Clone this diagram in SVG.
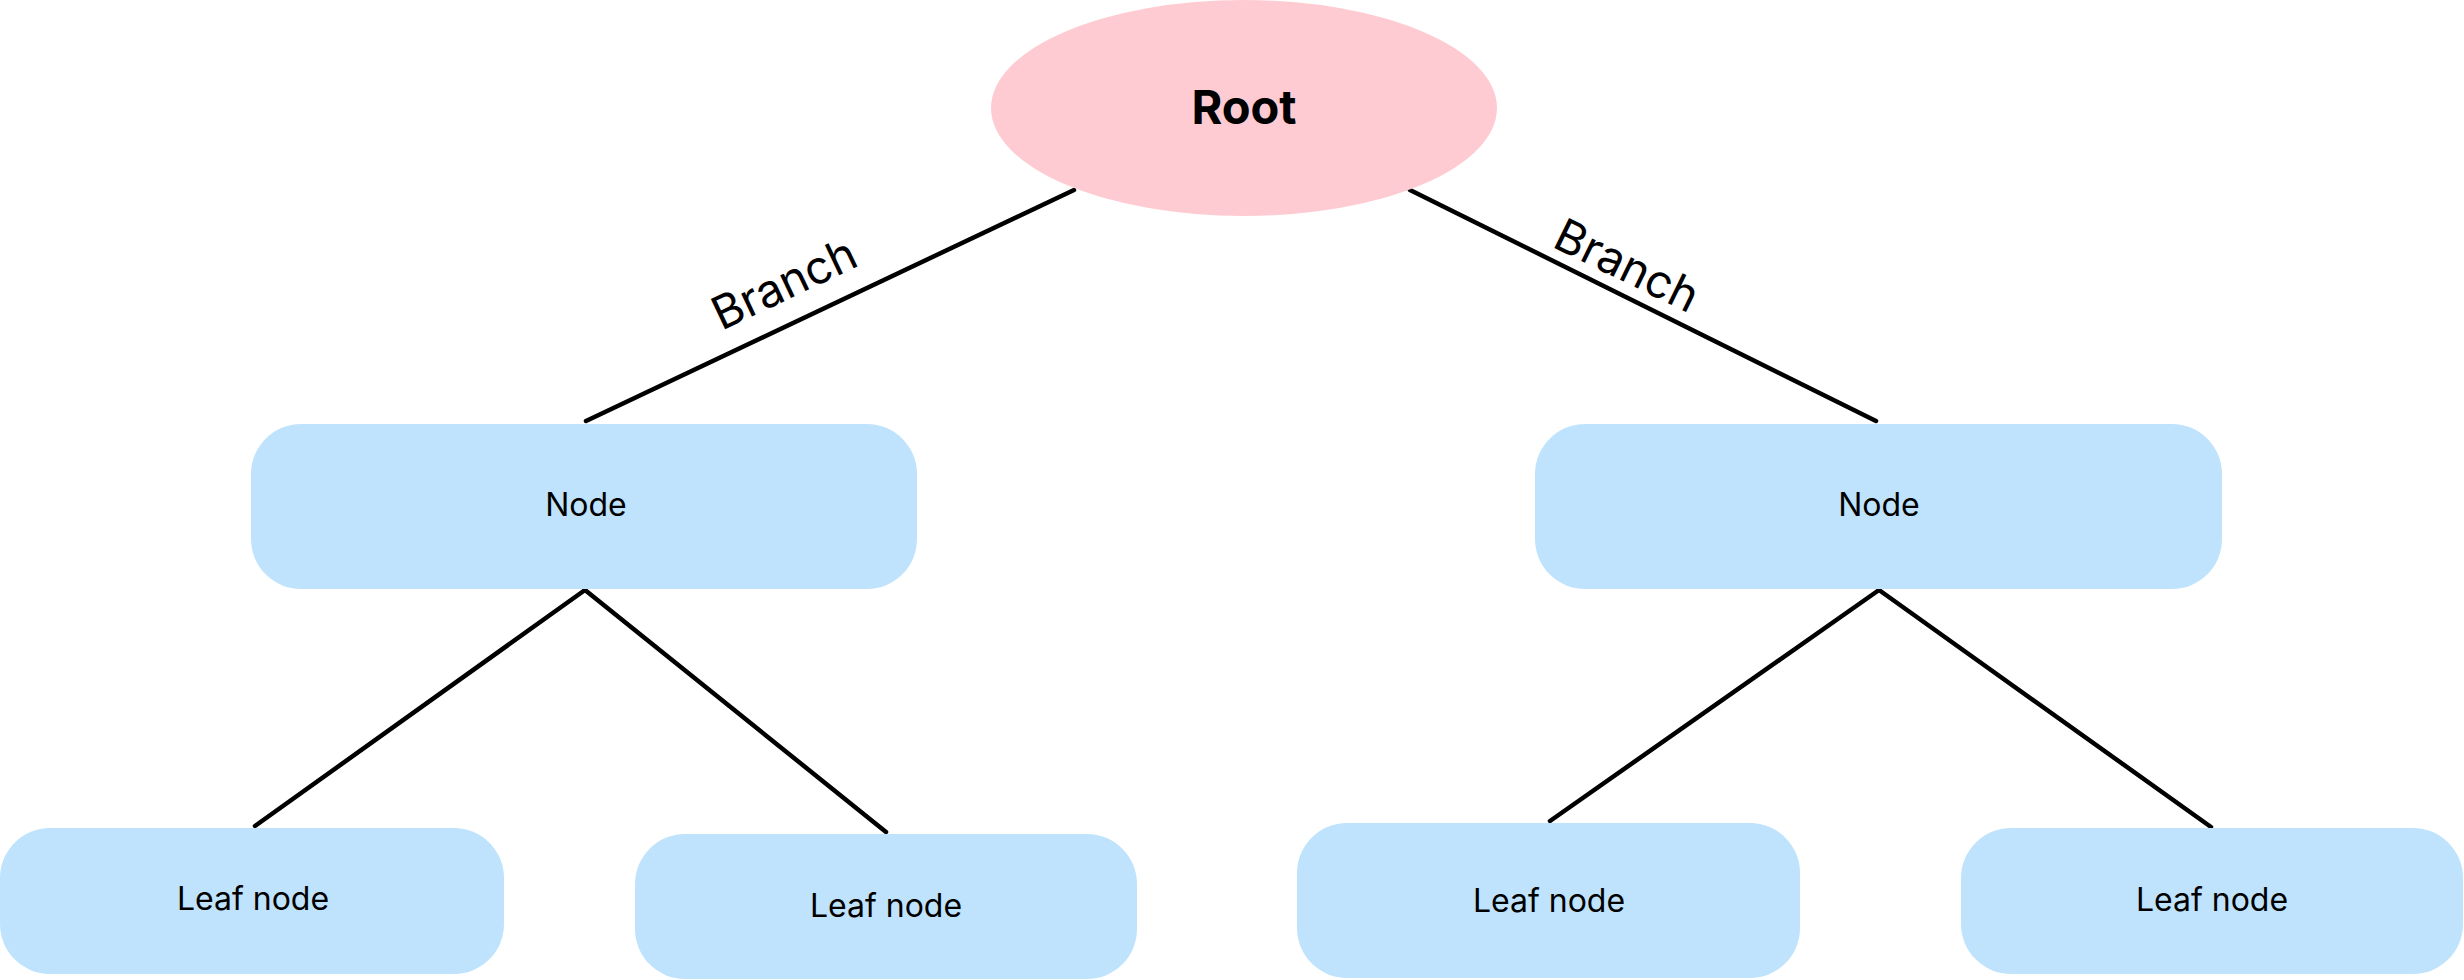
<svg xmlns="http://www.w3.org/2000/svg" width="2464" height="980" viewBox="0 0 2464 980">
<style>
.bg{fill:#ffffff}
.root{fill:#FFCBD2}
.box{fill:#BFE3FD}
.edge{stroke:#000;stroke-width:4.5;stroke-linecap:round;fill:none}
.t{font-family:Inter,"Liberation Sans",sans-serif;fill:#000;text-anchor:middle}
.lbl{font-size:32px}
.rt{font-size:47px;font-weight:700}
.br{font-size:46px}
</style>
<rect class="bg" x="0" y="0" width="2464" height="980"/>
<g id="connectors">
<line class="edge" x1="1074" y1="190" x2="586" y2="421"/>
<line class="edge" x1="1410" y1="190" x2="1876" y2="421"/>
<line class="edge" x1="585" y1="590" x2="255" y2="826"/>
<line class="edge" x1="585" y1="590" x2="886" y2="832"/>
<line class="edge" x1="1879" y1="590" x2="1550" y2="821"/>
<line class="edge" x1="1879" y1="590" x2="2211" y2="827"/>
<text class="t br" transform="translate(791 298) rotate(-25.4)">Branch</text>
<text class="t br" transform="translate(1620 280) rotate(26)">Branch</text>
</g>
<g id="root">
<ellipse class="root" cx="1244" cy="108" rx="253" ry="108"/>
<text class="t rt" x="1244" y="124">Root</text>
</g>
<g id="node-left">
<rect class="box" x="251" y="424" width="666" height="165" rx="50" ry="50"/>
<text class="t lbl" x="586" y="516">Node</text>
</g>
<g id="node-right">
<rect class="box" x="1535" y="424" width="687" height="165" rx="50" ry="50"/>
<text class="t lbl" x="1879" y="516">Node</text>
</g>
<g id="leaf-1">
<rect class="box" x="0" y="828" width="504" height="146" rx="50" ry="50"/>
<text class="t lbl" x="253" y="910">Leaf node</text>
</g>
<g id="leaf-2">
<rect class="box" x="635" y="834" width="502" height="145" rx="50" ry="50"/>
<text class="t lbl" x="886" y="917">Leaf node</text>
</g>
<g id="leaf-3">
<rect class="box" x="1297" y="823" width="503" height="155" rx="50" ry="50"/>
<text class="t lbl" x="1549" y="912">Leaf node</text>
</g>
<g id="leaf-4">
<rect class="box" x="1961" y="828" width="502" height="146" rx="50" ry="50"/>
<text class="t lbl" x="2212" y="911">Leaf node</text>
</g>
</svg>
